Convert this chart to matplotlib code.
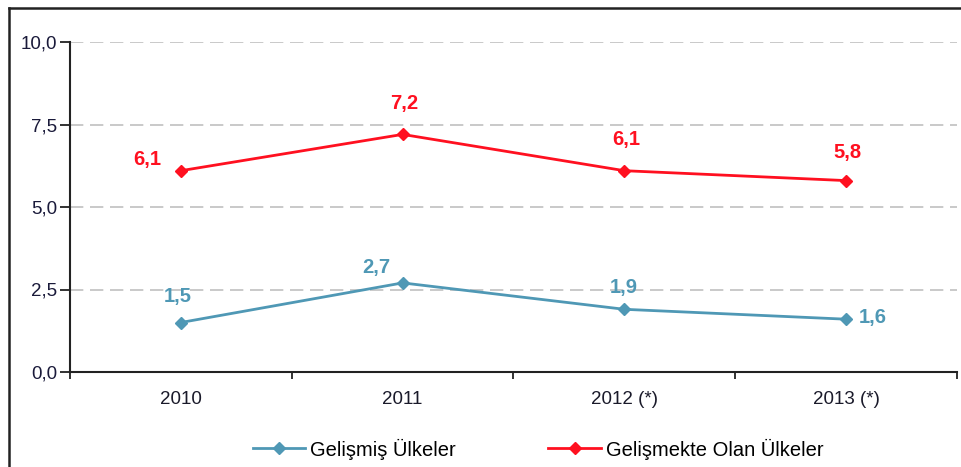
import numpy as np
import matplotlib.pyplot as plt
from matplotlib.lines import Line2D

plt.rcParams['font.family'] = ['Liberation Sans', 'DejaVu Sans']

# veriler
years = ['2010', '2011', '2012 (*)', '2013 (*)']
gelismis = [1.5, 2.7, 1.9, 1.6]
gelismekte = [6.1, 7.2, 6.1, 5.8]

blue = '#4f98b5'
red = '#ff1020'

# etiket kaydirmalari (piksel)
off_blue = [(-3, 26), (-26, 15), (-1, 22), (27, 2)]
off_red = [(-34, 11), (2, 31), (2, 31), (1, 28)]

fig = plt.figure(figsize=(9.62, 4.67), dpi=100)
ax = fig.add_axes([70 / 962, 1 - 372 / 467, 887 / 962, 330 / 467])

x = np.arange(len(years))
ax.plot(x, gelismis, color=blue, lw=2, marker='D', ms=6, label='Gelişmiş Ülkeler')
ax.plot(x, gelismekte, color=red, lw=2, marker='D', ms=6, label='Gelişmekte Olan Ülkeler')

px = 72 / 100
for i in range(len(years)):
    ax.annotate(f'{gelismis[i]:.1f}'.replace('.', ','), (x[i], gelismis[i]),
                xytext=(off_blue[i][0] * px, off_blue[i][1] * px), textcoords='offset points',
                ha='center', va='center', color=blue, fontsize=14.5, fontweight='bold')
    ax.annotate(f'{gelismekte[i]:.1f}'.replace('.', ','), (x[i], gelismekte[i]),
                xytext=(off_red[i][0] * px, off_red[i][1] * px), textcoords='offset points',
                ha='center', va='center', color=red, fontsize=14.5, fontweight='bold')

ax.set_xlim(-0.5, len(years) - 0.5)
ax.set_ylim(0, 10)
ax.set_yticks([0, 2.5, 5, 7.5, 10])
ax.set_yticklabels(['0,0', '2,5', '5,0', '7,5', '10,0'])
ax.set_xticks(x)
ax.set_xticklabels(years)
ax.set_xticks(np.arange(-0.5, len(years)), minor=True)
ax.tick_params(axis='x', which='major', length=0, pad=14, labelsize=13.5, labelcolor='#1a1a2a')
ax.tick_params(axis='x', which='minor', length=5, width=1.3, color='#222222')
ax.tick_params(axis='y', length=7, width=1.3, color='#222222', labelsize=13.5, labelcolor='#1a1a3a', pad=2)

ax.yaxis.grid(True, color='#c0c0c0', linestyle=(0, (8, 4)), lw=1.2)
ax.set_axisbelow(True)
for s in ['top', 'right']:
    ax.spines[s].set_visible(False)
for s in ['left', 'bottom']:
    ax.spines[s].set_linewidth(1.5)
    ax.spines[s].set_color('#222222')

fig.legend(loc='center', bbox_to_anchor=(538 / 962, 1 - 449 / 467), ncol=2, frameon=False,
           fontsize=14.5, handlelength=2.6, columnspacing=4.6, handletextpad=0.25)

# cerceve
fig.add_artist(Line2D([9 / 962, 9 / 962], [0, 1 - 8 / 467], color='#222222', lw=1.8))
fig.add_artist(Line2D([9 / 962, 1], [1 - 8 / 467, 1 - 8 / 467], color='#222222', lw=1.8))

fig.savefig('out.png', dpi=100)
